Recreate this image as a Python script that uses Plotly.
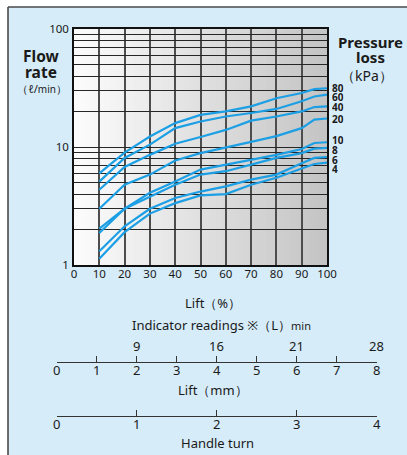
import math
import plotly.graph_objects as go

# Flow rate (l/min) against lift (%) for each pressure loss (kPa)
lift_pct = [10, 20, 30, 40, 50, 60, 70, 80, 90, 95, 100]
pressure_labels = ["80", "60", "40", "20", "10", "8", "6", "4"]
flow_80 = [6.0, 9.0, 12.3, 16.0, 18.8, 20.1, 22.2, 26.0, 28.8, 31.1, 31.6]
flow_60 = [5.1, 8.1, 10.5, 14.5, 16.5, 18.2, 19.5, 21.1, 24.5, 26.9, 27.9]
flow_40 = [4.35, 6.8, 8.6, 10.7, 12.2, 14.0, 16.8, 18.2, 20.1, 21.9, 22.2]
flow_20 = [3.0, 4.8, 5.85, 7.7, 8.9, 10.0, 11.1, 12.4, 14.5, 17.1, 17.5]
flow_10 = [2.04, 3.0, 4.1, 5.1, 6.45, 7.1, 7.7, 8.6, 9.65, 10.85, 11.0]
flow_8 = [1.87, 3.0, 3.8, 4.8, 5.85, 6.25, 7.1, 8.1, 8.9, 9.7, 9.85]
flow_6 = [1.31, 2.13, 3.0, 3.7, 4.2, 4.65, 5.3, 5.85, 7.3, 8.1, 8.25]
flow_4 = [1.13, 1.9, 2.73, 3.35, 3.9, 4.0, 4.8, 5.5, 6.6, 7.2, 7.4]
flow_series = [flow_80, flow_60, flow_40, flow_20, flow_10, flow_8, flow_6, flow_4]

# Axis ticks
lift_ticks = [0, 10, 20, 30, 40, 50, 60, 70, 80, 90, 100]
flow_grid = [1, 2, 3, 4, 5, 6, 7, 8, 9, 10, 20, 30, 40, 50, 60, 70, 80, 90, 100]
flow_tick_labels = ["1", "10", "100"]

# Secondary scales below the chart
lift_mm_ticks = [0, 1, 2, 3, 4, 5, 6, 7, 8]
indicator_pos_mm = [2, 4, 6, 8]
indicator_readings = ["9", "16", "21", "28"]
handle_turn_ticks = [0, 1, 2, 3, 4]

W, H = 407, 455
FONT = "Noto Sans"
LINE_BLUE = "#1c9fe4"
INK = "#1a1a1a"


def px_x(p):
    return p / W


def px_y(p):
    return 1 - p / H


fig = go.Figure()

for label, ys in zip(pressure_labels, flow_series):
    fig.add_trace(go.Scatter(
        x=lift_pct, y=ys, mode="lines", name=label + " kPa",
        line=dict(color=LINE_BLUE, width=2.2), showlegend=False,
        xaxis="x", yaxis="y", hoverinfo="skip",
    ))

# empty traces so the two scale subplots get drawn
fig.add_trace(go.Scatter(x=[None], y=[None], xaxis="x2", yaxis="y2", showlegend=False))
fig.add_trace(go.Scatter(x=[None], y=[None], xaxis="x3", yaxis="y3", showlegend=False))

shapes = []
# panel surround: white margin strips and dark border
shapes.append(dict(type="rect", xref="paper", yref="paper", x0=0, x1=1,
                   y0=px_y(7), y1=1, fillcolor="white", line=dict(width=0), layer="below"))
shapes.append(dict(type="rect", xref="paper", yref="paper", x0=0, x1=px_x(8),
                   y0=0, y1=1, fillcolor="white", line=dict(width=0), layer="below"))
shapes.append(dict(type="line", xref="paper", yref="paper", x0=px_x(8), x1=px_x(8),
                   y0=0, y1=px_y(7), line=dict(color="#4a4a4a", width=1.6), layer="below"))
shapes.append(dict(type="line", xref="paper", yref="paper", x0=px_x(8), x1=1,
                   y0=px_y(7), y1=px_y(7), line=dict(color="#4a4a4a", width=1.6), layer="below"))

# horizontal white-to-grey shading of the plot area
n_strips = 100
for i in range(n_strips):
    t = i / (n_strips - 1)
    g = round(252 - t * (252 - 196))
    shapes.append(dict(type="rect", xref="x", yref="y domain",
                       x0=i * 100 / n_strips, x1=(i + 1) * 100 / n_strips + 0.3,
                       y0=0, y1=1, fillcolor=f"rgb({g},{g},{g})",
                       line=dict(width=0), layer="below"))

annotations = []
# pressure labels at the line ends (compact boxes so the stack stays tight)
label_shift = [0, -2.7, -1, 0, 2.4, -1.7, -2.7, -6]
for label, ys, dy in zip(pressure_labels, flow_series, label_shift):
    annotations.append(dict(
        x=px_x(331), xref="paper", y=math.log10(ys[-1]), yref="y",
        text=f"<b>{label}</b>", showarrow=False, xanchor="left", yanchor="middle",
        height=8, valign="middle", borderpad=0,
        yshift=dy, font=dict(family=FONT, size=10, color=INK),
    ))

for pos, txt in zip(indicator_pos_mm, indicator_readings):
    annotations.append(dict(
        x=pos, xref="x2", y=px_y(345.7), yref="paper", text=txt, showarrow=False,
        xanchor="center", yanchor="middle", font=dict(family=FONT, size=13, color=INK),
    ))


def text_at(x, y, text, size, bold=False, anchor="center"):
    annotations.append(dict(
        x=px_x(x), y=px_y(y), xref="paper", yref="paper",
        text=f"<b>{text}</b>" if bold else text, showarrow=False,
        xanchor=anchor, yanchor="middle", font=dict(family=FONT, size=size, color=INK),
    ))


text_at(41, 55.5, "Flow", 15.5, bold=True)
text_at(41, 71.5, "rate", 15.5, bold=True)
text_at(42, 89, "（ℓ/<span style='font-size:10px'>min</span>）", 11)
text_at(370, 42, "Pressure", 15, bold=True)
text_at(370, 57, "loss", 15, bold=True)
text_at(367, 76, "（kPa）", 14)
text_at(213, 302.5, "Lift（%）", 13)
text_at(222, 325, "Indicator readings ※（L）<span style='font-size:11px'>min</span>", 13)
text_at(213, 390, "Lift（mm）", 13)
text_at(217, 443, "Handle turn", 13)

main_dom_x = [px_x(74), px_x(327)]
main_dom_y = [px_y(265), px_y(29.3)]
scale_dom_x = [px_x(56.7), px_x(376.7)]

fig.update_layout(
    width=W, height=H, autosize=False,
    margin=dict(l=0, r=0, t=0, b=0, pad=0, autoexpand=False),
    paper_bgcolor="#d6ecf9",
    plot_bgcolor="rgba(0,0,0,0)",
    font=dict(family=FONT, color=INK),
    shapes=shapes,
    annotations=annotations,
    xaxis=dict(
        domain=main_dom_x, anchor="y", range=[0, 100], automargin=False,
        tickvals=lift_ticks, ticks="", showgrid=True, gridcolor="#4d4d4d", gridwidth=1.6,
        showline=True, mirror=True, linecolor="#111", linewidth=1.5, ticklabelstandoff=-3,
        zeroline=False, tickfont=dict(size=11.5, family=FONT, color=INK),
    ),
    yaxis=dict(
        domain=main_dom_y, anchor="x", type="log", range=[0, 2], automargin=False,
        tickvals=flow_grid,
        ticktext=[str(v) if str(v) in flow_tick_labels else "" for v in flow_grid],
        ticks="", showgrid=True, gridcolor="#262626", gridwidth=1.4, ticklabelstandoff=1,
        showline=True, mirror=True, linecolor="#111", linewidth=1.5,
        zeroline=False, tickfont=dict(size=11.5, family=FONT, color=INK),
    ),
    xaxis2=dict(
        domain=scale_dom_x, anchor="y2", range=[0, 8], tickvals=lift_mm_ticks, automargin=False,
        ticks="inside", ticklen=6, tickwidth=1.3, tickcolor="#333", ticklabelstandoff=-4,
        showline=True, linecolor="#333", linewidth=1.3, showgrid=False, zeroline=False,
        tickfont=dict(size=13, family=FONT, color=INK),
    ),
    yaxis2=dict(domain=[px_y(362.3), px_y(352)], anchor="x2", visible=False, range=[0, 1],
                automargin=False),
    xaxis3=dict(
        domain=scale_dom_x, anchor="y3", range=[0, 4], tickvals=handle_turn_ticks, automargin=False,
        ticks="inside", ticklen=6, tickwidth=1.3, tickcolor="#333", ticklabelstandoff=-4,
        showline=True, linecolor="#333", linewidth=1.3, showgrid=False, zeroline=False,
        tickfont=dict(size=13, family=FONT, color=INK),
    ),
    yaxis3=dict(domain=[px_y(416), px_y(406)], anchor="x3", visible=False, range=[0, 1],
                automargin=False),
)

fig.write_html("out.html")
